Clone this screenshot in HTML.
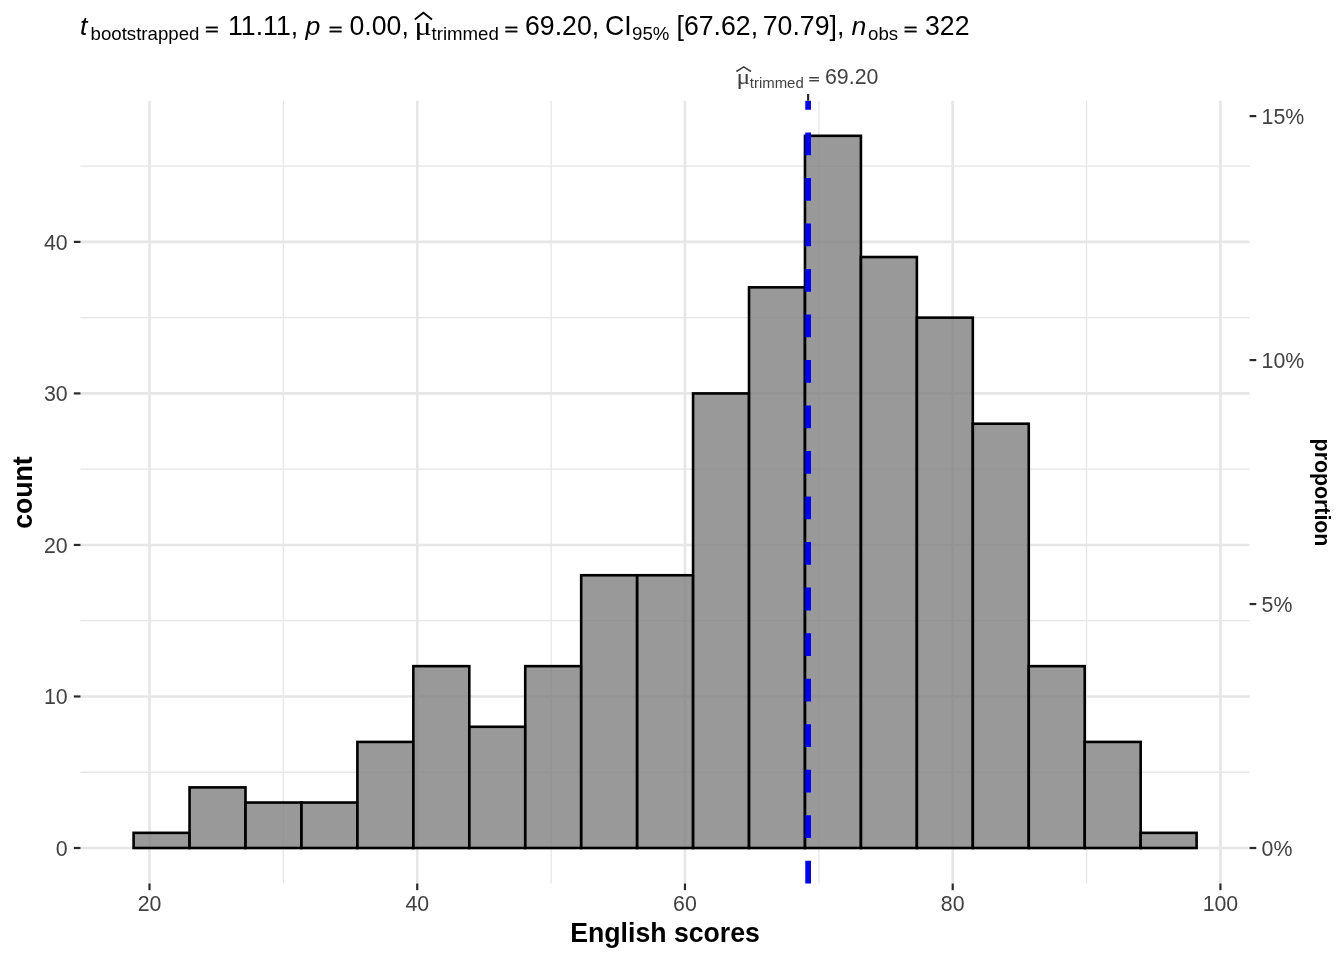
<!DOCTYPE html>
<html lang="en"><head><meta charset="utf-8"><title>English scores histogram</title>
<style>html,body{margin:0;padding:0;background:#fff}svg{display:block}text{font-family:"Liberation Sans",Arial,Helvetica,sans-serif}.ax{font-size:21.33px;fill:#414141}.tt{font-size:26.67px;font-weight:bold;fill:#000}.st{font-size:26.67px;fill:#000}.ss{font-size:18.67px;fill:#000}.it{font-style:italic}.sym{font-family:"Liberation Serif","DejaVu Serif",serif}.eq{font-family:"DejaVu Sans","Liberation Sans",sans-serif}.st.eq{font-size:17.35px;stroke:#000;stroke-width:0.3px}</style></head><body>
<svg width="1344" height="960" viewBox="0 0 1344 960">
<rect width="1344" height="960" fill="#ffffff"/>
<g stroke="#e6e6e6" fill="none">
<line x1="80.50" x2="1249.60" y1="772.24" y2="772.24" stroke-width="1.30"/>
<line x1="80.50" x2="1249.60" y1="620.70" y2="620.70" stroke-width="1.30"/>
<line x1="80.50" x2="1249.60" y1="469.18" y2="469.18" stroke-width="1.30"/>
<line x1="80.50" x2="1249.60" y1="317.64" y2="317.64" stroke-width="1.30"/>
<line x1="80.50" x2="1249.60" y1="166.12" y2="166.12" stroke-width="1.30"/>
<line x1="283.37" x2="283.37" y1="100.70" y2="883.50" stroke-width="1.30"/>
<line x1="551.10" x2="551.10" y1="100.70" y2="883.50" stroke-width="1.30"/>
<line x1="818.84" x2="818.84" y1="100.70" y2="883.50" stroke-width="1.30"/>
<line x1="1086.57" x2="1086.57" y1="100.70" y2="883.50" stroke-width="1.30"/>
<line x1="80.50" x2="1249.60" y1="848.00" y2="848.00" stroke-width="2.60"/>
<line x1="80.50" x2="1249.60" y1="696.47" y2="696.47" stroke-width="2.60"/>
<line x1="80.50" x2="1249.60" y1="544.94" y2="544.94" stroke-width="2.60"/>
<line x1="80.50" x2="1249.60" y1="393.41" y2="393.41" stroke-width="2.60"/>
<line x1="80.50" x2="1249.60" y1="241.88" y2="241.88" stroke-width="2.60"/>
<line x1="149.50" x2="149.50" y1="100.70" y2="883.50" stroke-width="2.60"/>
<line x1="417.24" x2="417.24" y1="100.70" y2="883.50" stroke-width="2.60"/>
<line x1="684.97" x2="684.97" y1="100.70" y2="883.50" stroke-width="2.60"/>
<line x1="952.71" x2="952.71" y1="100.70" y2="883.50" stroke-width="2.60"/>
<line x1="1220.44" x2="1220.44" y1="100.70" y2="883.50" stroke-width="2.60"/>
</g>
<g fill="#7f7f7f" fill-opacity="0.8" stroke="#000" stroke-width="2.6" stroke-linejoin="miter">
<rect x="133.60" y="832.85" width="55.95" height="15.15"/>
<rect x="189.55" y="787.39" width="55.95" height="60.61"/>
<rect x="245.49" y="802.54" width="55.95" height="45.46"/>
<rect x="301.44" y="802.54" width="55.95" height="45.46"/>
<rect x="357.39" y="741.93" width="55.95" height="106.07"/>
<rect x="413.34" y="666.16" width="55.95" height="181.84"/>
<rect x="469.28" y="726.78" width="55.95" height="121.22"/>
<rect x="525.23" y="666.16" width="55.95" height="181.84"/>
<rect x="581.18" y="575.25" width="55.95" height="272.75"/>
<rect x="637.13" y="575.25" width="55.95" height="272.75"/>
<rect x="693.07" y="393.41" width="55.95" height="454.59"/>
<rect x="749.02" y="287.34" width="55.95" height="560.66"/>
<rect x="804.97" y="135.81" width="55.95" height="712.19"/>
<rect x="860.92" y="257.03" width="55.95" height="590.97"/>
<rect x="916.86" y="317.64" width="55.95" height="530.36"/>
<rect x="972.81" y="423.72" width="55.95" height="424.28"/>
<rect x="1028.76" y="666.16" width="55.95" height="181.84"/>
<rect x="1084.71" y="741.93" width="55.95" height="106.07"/>
<rect x="1140.65" y="832.85" width="55.95" height="15.15"/>
</g>
<line x1="808.13" x2="808.13" y1="883.50" y2="100.70" stroke="#0000ff" stroke-width="5.69" stroke-dasharray="22.76 22.76"/>
<g stroke="#2a2a2a" stroke-width="2.2" fill="none">
<line x1="73.83" x2="80.50" y1="848.00" y2="848.00"/>
<line x1="73.83" x2="80.50" y1="696.47" y2="696.47"/>
<line x1="73.83" x2="80.50" y1="544.94" y2="544.94"/>
<line x1="73.83" x2="80.50" y1="393.41" y2="393.41"/>
<line x1="73.83" x2="80.50" y1="241.88" y2="241.88"/>
<line x1="1249.60" x2="1256.27" y1="848.00" y2="848.00"/>
<line x1="1249.60" x2="1256.27" y1="604.04" y2="604.04"/>
<line x1="1249.60" x2="1256.27" y1="360.07" y2="360.07"/>
<line x1="1249.60" x2="1256.27" y1="116.11" y2="116.11"/>
<line x1="149.50" x2="149.50" y1="883.50" y2="890.17"/>
<line x1="417.24" x2="417.24" y1="883.50" y2="890.17"/>
<line x1="684.97" x2="684.97" y1="883.50" y2="890.17"/>
<line x1="952.71" x2="952.71" y1="883.50" y2="890.17"/>
<line x1="1220.44" x2="1220.44" y1="883.50" y2="890.17"/>
<line x1="808.13" x2="808.13" y1="94.03" y2="100.70"/>
</g>
<text class="ax" text-anchor="end" transform="translate(67.60,855.85) scale(1,1.070)">0</text>
<text class="ax" text-anchor="end" transform="translate(67.60,704.32) scale(1,1.070)">10</text>
<text class="ax" text-anchor="end" transform="translate(67.60,552.79) scale(1,1.070)">20</text>
<text class="ax" text-anchor="end" transform="translate(67.60,401.26) scale(1,1.070)">30</text>
<text class="ax" text-anchor="end" transform="translate(67.60,249.73) scale(1,1.070)">40</text>
<text class="ax" transform="translate(1261.60,855.55) scale(1,1.070)">0%</text>
<text class="ax" transform="translate(1261.60,611.59) scale(1,1.070)">5%</text>
<text class="ax" transform="translate(1261.60,367.62) scale(1,1.070)">10%</text>
<text class="ax" transform="translate(1261.60,123.66) scale(1,1.070)">15%</text>
<text class="ax" text-anchor="middle" transform="translate(149.50,911.30) scale(1,1.070)">20</text>
<text class="ax" text-anchor="middle" transform="translate(417.24,911.30) scale(1,1.070)">40</text>
<text class="ax" text-anchor="middle" transform="translate(684.97,911.30) scale(1,1.070)">60</text>
<text class="ax" text-anchor="middle" transform="translate(952.71,911.30) scale(1,1.070)">80</text>
<text class="ax" text-anchor="middle" transform="translate(1220.44,911.30) scale(1,1.070)">100</text>
<g id="toplab">
<text class="ax sym" transform="translate(736.6,84.0) scale(1.2,0.95)">μ</text>
<polyline points="736.4,71.5 743.7,66.9 751.0,71.5" fill="none" stroke="#414141" stroke-width="1.6"/>
<text class="ax" style="font-size:14.93px" x="749.8" y="88.2">trimmed</text>
<text class="ax eq" style="font-size:14.5px;stroke:#414141;stroke-width:0.15px" transform="translate(807.7,83.6) scale(1.05,1)">=</text>
<text class="ax" transform="translate(825,84.0) scale(1,1.05)">69.20</text>
</g>
<text class="tt" text-anchor="middle" transform="translate(665.05,942.4) scale(1,1.04)">English scores</text>
<text class="tt" text-anchor="middle" transform="translate(31.9,492.6) rotate(-90) scale(1,1.04)">count</text>
<text class="tt" style="font-size:21.33px" text-anchor="middle" transform="translate(1314.9,492.5) rotate(90) scale(1,1.04)">proportion</text>
<g id="subtitle">
<text class="st it" x="80.00" y="34.70">t</text>
<text class="ss" x="90.50" y="40.00">bootstrapped</text>
<text class="st eq" transform="translate(204.05,34.60) scale(1.08,1)">=</text>
<text class="st" transform="translate(228.00,34.90) scale(1,1.055)">11.11,</text>
<text class="st it" x="305.50" y="34.70">p</text>
<text class="st eq" transform="translate(327.75,34.60) scale(1.08,1)">=</text>
<text class="st" transform="translate(349.50,34.90) scale(1,1.055)">0.00,</text>
<text class="st sym" transform="translate(414.4,34.70) scale(1.2,0.95)">μ</text>
<polyline points="414.8,19.4 423.4,12.8 432.0,19.4" fill="none" stroke="#000" stroke-width="1.9"/>
<text class="ss" x="431.50" y="40.00">trimmed</text>
<text class="st eq" transform="translate(503.50,34.60) scale(1.08,1)">=</text>
<text class="st" transform="translate(525.00,34.90) scale(1,1.055)">69.20,</text>
<text class="st" transform="translate(605.00,34.90) scale(1,1.055)">CI</text>
<text class="ss" x="632.00" y="40.00">95%</text>
<text class="st" transform="translate(676.50,34.90) scale(1,1.055)">[67.62,</text>
<text class="st" transform="translate(762.75,34.90) scale(1,1.055)">70.79],</text>
<text class="st it" x="851.50" y="34.70">n</text>
<text class="ss" x="868.00" y="40.00">obs</text>
<text class="st eq" transform="translate(902.75,34.60) scale(1.08,1)">=</text>
<text class="st" transform="translate(925.00,34.90) scale(1,1.055)">322</text>
</g>
</svg></body></html>
